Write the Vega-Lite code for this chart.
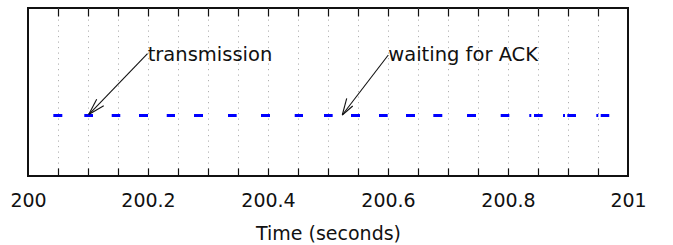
{
  "$schema": "https://vega.github.io/schema/vega-lite/v6.json",
  "width": 600,
  "height": 168,
  "autosize": "none",
  "padding": {"left": 28, "top": 8, "right": 45, "bottom": 69},
  "background": "white",
  "config": {
    "view": {"stroke": "#111", "strokeWidth": 2},
    "font": "DejaVu Sans"
  },
  "datasets": {
    "dashes": [
      {"start": 200.0422, "end": 200.0572, "level": 0.36},
      {"start": 200.0938, "end": 200.1083, "level": 0.36},
      {"start": 200.1395, "end": 200.1538, "level": 0.36},
      {"start": 200.1850, "end": 200.2000, "level": 0.36},
      {"start": 200.2312, "end": 200.2450, "level": 0.36},
      {"start": 200.2767, "end": 200.2917, "level": 0.36},
      {"start": 200.3333, "end": 200.3478, "level": 0.36},
      {"start": 200.3883, "end": 200.4033, "level": 0.36},
      {"start": 200.4445, "end": 200.4583, "level": 0.36},
      {"start": 200.4933, "end": 200.5078, "level": 0.36},
      {"start": 200.5383, "end": 200.5533, "level": 0.36},
      {"start": 200.5850, "end": 200.5995, "level": 0.36},
      {"start": 200.6300, "end": 200.6450, "level": 0.36},
      {"start": 200.6755, "end": 200.6905, "level": 0.36},
      {"start": 200.7317, "end": 200.7467, "level": 0.36},
      {"start": 200.7878, "end": 200.8022, "level": 0.36},
      {"start": 200.8355, "end": 200.8388, "level": 0.36},
      {"start": 200.8433, "end": 200.8578, "level": 0.36},
      {"start": 200.8917, "end": 200.8950, "level": 0.36},
      {"start": 200.8988, "end": 200.9133, "level": 0.36},
      {"start": 200.9472, "end": 200.9505, "level": 0.36},
      {"start": 200.9545, "end": 200.9688, "level": 0.36}
    ],
    "shafts": [
      {"x": 200.1992, "y": 0.728, "x2": 200.1012, "y2": 0.366},
      {"x": 200.6005, "y": 0.720, "x2": 200.5238, "y2": 0.363}
    ],
    "heads": [
      {"x": 200.1012, "y": 0.366, "x2": 200.1145, "y2": 0.4565},
      {"x": 200.1012, "y": 0.366, "x2": 200.1262, "y2": 0.418},
      {"x": 200.5238, "y": 0.363, "x2": 200.5312, "y2": 0.4625},
      {"x": 200.5238, "y": 0.363, "x2": 200.5412, "y2": 0.4167}
    ],
    "labels": [
      {"x": 200.1995, "y": 0.685, "text": "transmission"},
      {"x": 200.6005, "y": 0.685, "text": "waiting for ACK"}
    ]
  },
  "resolve": {"scale": {"x": "shared", "y": "shared"}, "axis": {"x": "independent"}},
  "layer": [
    {
      "data": {"name": "shafts"},
      "mark": {"type": "rule", "color": "#111", "strokeWidth": 1.1},
      "encoding": {
        "x": {
          "field": "x", "type": "quantitative",
          "scale": {"domain": [200, 201], "nice": false, "zero": false},
          "axis": {
            "orient": "bottom",
            "values": [200.05, 200.1, 200.15, 200.2, 200.25, 200.3, 200.35, 200.4, 200.45, 200.5, 200.55, 200.6, 200.65, 200.7, 200.75, 200.8, 200.85, 200.9, 200.95],
            "grid": true, "gridColor": "#b0b0b0", "gridDash": [1.2, 4.3], "gridWidth": 1, "gridOpacity": 1,
            "labels": false, "ticks": false, "domain": false, "title": null, "zindex": 0
          }
        },
        "x2": {"field": "x2"},
        "y": {"field": "y", "type": "quantitative", "scale": {"domain": [0, 1], "nice": false, "zero": false}, "axis": null},
        "y2": {"field": "y2"}
      }
    },
    {
      "data": {"name": "dashes"},
      "mark": {"type": "rule", "color": "#0000ff", "strokeWidth": 3},
      "encoding": {
        "x": {
          "field": "start", "type": "quantitative",
          "scale": {"domain": [200, 201], "nice": false, "zero": false},
          "axis": {
            "orient": "bottom",
            "values": [200, 200.2, 200.4, 200.6, 200.8, 201],
            "format": ".1~f",
            "grid": false, "ticks": false, "domain": false,
            "labelFontSize": 19, "labelColor": "#111", "labelFont": "DejaVu Sans", "labelPadding": 15,
            "labelFlush": false, "labelOverlap": false,
            "title": "Time (seconds)", "titleFontSize": 19, "titleFontWeight": "normal", "titleColor": "#111",
            "titleFont": "DejaVu Sans", "titlePadding": 14, "zindex": 1
          }
        },
        "x2": {"field": "end"},
        "y": {"field": "level", "type": "quantitative", "scale": {"domain": [0, 1], "nice": false, "zero": false}, "axis": null}
      }
    },
    {
      "data": {"name": "heads"},
      "mark": {"type": "rule", "color": "#111", "strokeWidth": 1.1},
      "encoding": {
        "x": {
          "field": "x", "type": "quantitative",
          "scale": {"domain": [200, 201], "nice": false, "zero": false},
          "axis": {
            "orient": "bottom", "offset": -168,
            "values": [200.05, 200.1, 200.15, 200.2, 200.25, 200.3, 200.35, 200.4, 200.45, 200.5, 200.55, 200.6, 200.65, 200.7, 200.75, 200.8, 200.85, 200.9, 200.95],
            "grid": false, "labels": false, "domain": false, "title": null,
            "ticks": true, "tickSize": 8, "tickColor": "#111", "tickWidth": 1.2, "zindex": 1
          }
        },
        "x2": {"field": "x2"},
        "y": {"field": "y", "type": "quantitative", "scale": {"domain": [0, 1], "nice": false, "zero": false}, "axis": null},
        "y2": {"field": "y2"}
      }
    },
    {
      "data": {"name": "labels"},
      "mark": {"type": "text", "align": "left", "baseline": "alphabetic", "fontSize": 19.5, "font": "DejaVu Sans", "color": "#111"},
      "encoding": {
        "x": {
          "field": "x", "type": "quantitative",
          "scale": {"domain": [200, 201], "nice": false, "zero": false},
          "axis": {
            "orient": "top", "offset": -168,
            "values": [200.05, 200.1, 200.15, 200.2, 200.25, 200.3, 200.35, 200.4, 200.45, 200.5, 200.55, 200.6, 200.65, 200.7, 200.75, 200.8, 200.85, 200.9, 200.95],
            "grid": false, "labels": false, "domain": false, "title": null,
            "ticks": true, "tickSize": 8, "tickColor": "#111", "tickWidth": 1.2, "zindex": 1
          }
        },
        "y": {"field": "y", "type": "quantitative", "scale": {"domain": [0, 1], "nice": false, "zero": false}, "axis": null},
        "text": {"field": "text"}
      }
    }
  ]
}
